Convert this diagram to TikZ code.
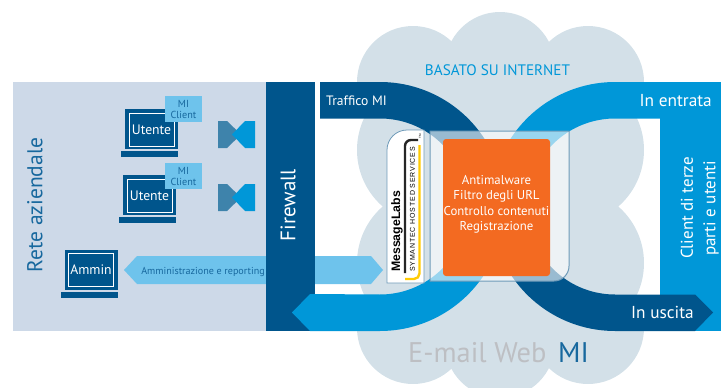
\documentclass[tikz,border=0pt]{standalone}
\usepackage{fontspec}
\setmainfont{PT Sans}
\newfontfamily\logofont[LetterSpace=12]{Liberation Sans}
\newfontfamily\logobold{Liberation Sans}
\usepackage{xcolor}
\usetikzlibrary{positioning}
\definecolor{panelblue}{HTML}{CDD9E8}
\definecolor{cloudblue}{HTML}{D3E0E8}
\definecolor{darkblue}{HTML}{00558C}
\definecolor{midblue}{HTML}{0097D8}
\definecolor{paleblue}{HTML}{6EC3EC}
\definecolor{tieblue}{HTML}{3E83AB}
\definecolor{textblue}{HTML}{17689E}
\definecolor{boxline}{HTML}{6F9BB9}
\definecolor{orangebox}{HTML}{F36A21}
\definecolor{webgrey}{HTML}{BDBFC3}
\definecolor{logoyellow}{HTML}{FFCB05}
\tikzset{
  fs/.style={font=\fontsize{#1}{#1}\selectfont},
  screenbox/.style={draw=white, line width=1pt, fill=darkblue, text=white, minimum width=45, minimum height=33, inner sep=0pt, fs=13.7},
  clienttab/.style={fill=paleblue, text=textblue, minimum width=37, minimum height=26, inner sep=0pt, align=center, font=\fontsize{10.2}{11}\selectfont},
  whitetext/.style={text=white, inner sep=0pt},
}
\begin{document}
\begin{tikzpicture}[x=1pt,y=-1pt]
\useasboundingbox (0,0) rectangle (721,388);
% cloud
\foreach \cx/\cy/\rad in {413/82/56,500/67/55,588/82/56,432/150/75,569/150/75,432/263/75,569/263/75,413/328/56,500/343/55,588/328/56}
    \fill[cloudblue] (\cx,\cy) circle[radius=\rad];
\fill[cloudblue] (400,60) rectangle (600,350);
\node[text=midblue, inner sep=0pt, fs=15.2] (internet) at (497.5,70) {BASATO SU INTERNET};
\node[text=webgrey, inner sep=0pt, fs=28.4, anchor=west] (mailweb) at (408,353) {E-mail Web};
\node[text=textblue, inner sep=0pt, fs=28.4, anchor=west] (mitext) at (558,353) {MI};
% left panel
\fill[panelblue] (13,82) rectangle (266,331);
\node[text=textblue, inner sep=0pt, rotate=90, fs=21.5] (rete) at (35,205) {Rete aziendale};
\fill[paleblue] (124,270) -- (137,256) -- (371,256) -- (383,270) -- (371,284) -- (137,284) -- cycle;
\node[text=textblue, inner sep=0pt, fs=10.1] (admin) at (203,272) {Amministrazione e reporting};
% laptops
\foreach \nm/\lx/\ly/\lab in {utenteA/151.5/129.5/Utente,utenteB/149.5/195.5/Utente,ammin/91/270/Ammin}{
    \fill[darkblue] (\lx-26.5,\ly-20.5) rectangle (\lx+26.5,\ly+19.5);
    \fill[darkblue] (\lx-30.5,\ly+21.5) rectangle (\lx+26.5,\ly+27.5);
    \node[screenbox] (\nm) at (\lx,\ly) {\lab};
}
\node[clienttab] (tabA) at (183.5,109) {MI\\Client};
\node[clienttab] (tabB) at (183.5,176) {MI\\Client};
% bow ties
\foreach \ty in {0,63}{
    \fill[tieblue] (218,121+\ty) -- (227,121+\ty) -- (241,134.5+\ty) -- (227,148+\ty) -- (218,148+\ty) -- cycle;
    \fill[midblue] (255,121+\ty) -- (245,121+\ty) -- (232,134.5+\ty) -- (245,148+\ty) -- (255,148+\ty) -- cycle;
}
% firewall
\fill[darkblue] (266,82) rectangle (315,331);
\node[whitetext, rotate=90, fs=21] (firewall) at (288,205) {Firewall};
% bands
\coordinate (centerL) at (380,206.5);
\coordinate (centerR) at (615,206.5);
\fill[midblue] (660,82) rectangle (721,331);
\fill[darkblue] (320,82) -- (380,82) arc[start angle=-90, end angle=-20, radius=124.5] -- ([shift={(-20:88)}]centerL) arc[start angle=-20, end angle=-90, radius=88] -- (320,118.5) -- cycle;
\fill[midblue] (615,82) -- (721,82) -- (721,118.5) -- (615,118.5) arc[start angle=-90, end angle=-160, radius=88] -- ([shift={(-160:124.5)}]centerR) arc[start angle=-160, end angle=-90, radius=124.5] -- cycle;
\fill[midblue] (292,312.5) -- (310,294) -- (380,294.5) arc[start angle=90, end angle=20, radius=88] -- ([shift={(20:124.5)}]centerL) arc[start angle=20, end angle=90, radius=124.5] -- (310,331) -- cycle;
\fill[darkblue] (713,312.5) -- (695,294.5) -- (615,294.5) arc[start angle=90, end angle=160, radius=88] -- ([shift={(160:124.5)}]centerR) arc[start angle=160, end angle=90, radius=124.5] -- (695,331) -- cycle;
\node[whitetext, fs=13.6, anchor=west] (traffico) at (326,100.5) {Traffico MI};
\node[whitetext, fs=17.3, anchor=east] (entrata) at (712,101) {In entrata};
\node[whitetext, fs=17.3, anchor=east] (uscita) at (694,312.5) {In uscita};
\node[whitetext, rotate=90, fs=17] (clienti) at (687,208) {Client di terze};
\node[whitetext, rotate=90, fs=17] (parti) at (711,208.5) {parti e utenti};
% filter box
\fill[white, opacity=0.6] (430,131) -- (569,131) -- (569,266) arc[start angle=0, end angle=90, radius=15] -- (430,281) -- cycle;
\draw[boxline, line width=1pt] (430,131) -- (569,131) -- (569,266) arc[start angle=0, end angle=90, radius=15] -- (430,281) -- cycle;
\node[fill=orangebox, rounded corners=3pt, minimum width=107, minimum height=137, inner sep=0pt] (filtri) at (496.5,207.5) {};
\node[whitetext, align=center, font=\fontsize{12.8}{15.5}\selectfont] (filtritext) at (496.5,204.5) {Antimalware\\Filtro degli URL\\Controllo contenuti\\Registrazione};
% logo
\draw[boxline, fill=white, line width=0.8pt] (387,283) -- (387,150) arc[start angle=180, end angle=270, radius=20] -- (424,130) -- (424,283) -- cycle;
\draw[black!85, line width=2.4pt] (405,273) -- (405,146) arc[start angle=180, end angle=270, radius=6] -- (418,140);
\draw[logoyellow, line width=2.4pt] (405,279) -- (414,279) arc[start angle=90, end angle=0, radius=5.5] -- (419.5,145);
\node[inner sep=0pt, rotate=90, anchor=west, font=\logobold\bfseries\fontsize{12.3}{12}\selectfont] (labs) at (397,272) {MessageLabs};
\node[inner sep=0pt, rotate=90, anchor=west, font=\logofont\fontsize{7}{7}\selectfont] (symantec) at (412.5,272) {SYMANTEC HOSTED SERVICES};
\node[inner sep=0pt, rotate=90, font=\logobold\fontsize{3}{3}\selectfont] (tm) at (420,136) {TM};
\end{tikzpicture}
\end{document}
